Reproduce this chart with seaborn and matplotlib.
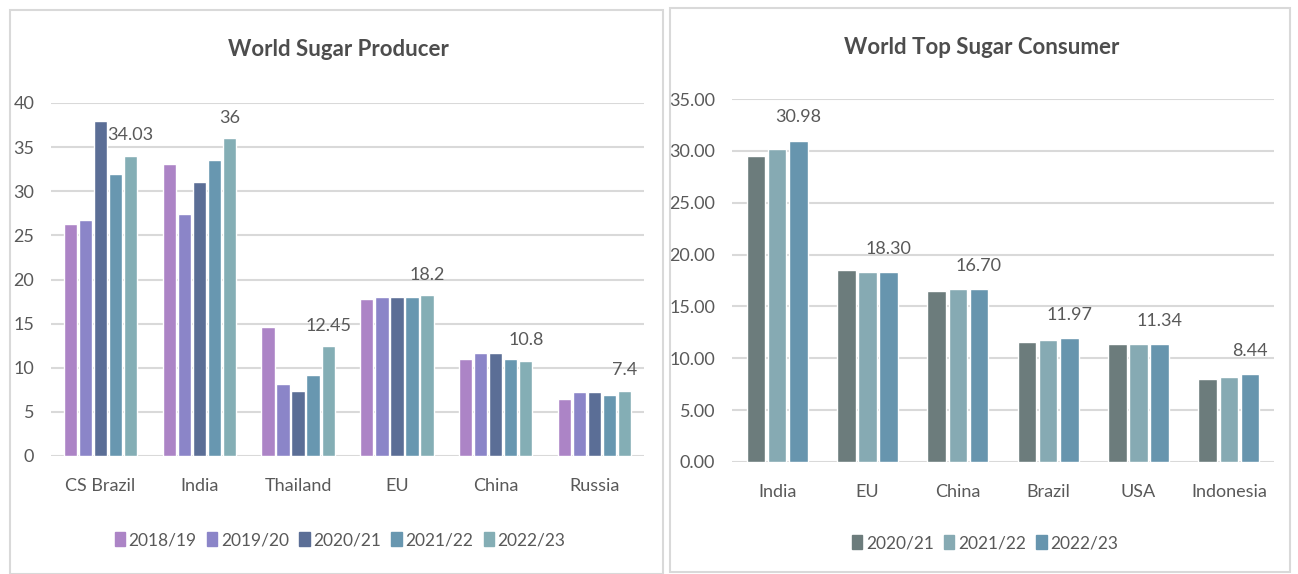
#recreate the sugar producer / consumer bar charts
import pandas as pd
import matplotlib.pyplot as plt
import matplotlib.patches as mpatches
import seaborn as sns

# data
prod_countries = ['CS Brazil', 'India', 'Thailand', 'EU', 'China', 'Russia']
prod_years = ['2018/19', '2019/20', '2020/21', '2021/22', '2022/23']
prod_2018 = [26.3, 33.1, 14.6, 17.8, 11.0, 6.5]
prod_2019 = [26.7, 27.4, 8.2, 18.0, 11.7, 7.2]
prod_2020 = [38.0, 31.0, 7.4, 18.0, 11.7, 7.2]
prod_2021 = [31.9, 33.5, 9.2, 18.0, 11.0, 6.9]
prod_2022 = [34.03, 36.0, 12.45, 18.2, 10.8, 7.4]
prod_colors = ['#AC84C6', '#8B85C8', '#5B6E96', '#6897B0', '#84AEB5']

cons_countries = ['India', 'EU', 'China', 'Brazil', 'USA', 'Indonesia']
cons_years = ['2020/21', '2021/22', '2022/23']
cons_2020 = [29.5, 18.5, 16.5, 11.6, 11.34, 8.0]
cons_2021 = [30.2, 18.3, 16.7, 11.8, 11.34, 8.2]
cons_2022 = [30.98, 18.30, 16.70, 11.97, 11.34, 8.44]
cons_colors = ['#6C7C7C', '#86AAB3', '#6795AE']

prod_df = pd.DataFrame({'country': prod_countries * 5,
                        'year': [y for y in prod_years for _ in prod_countries],
                        'value': prod_2018 + prod_2019 + prod_2020 + prod_2021 + prod_2022})
cons_df = pd.DataFrame({'country': cons_countries * 3,
                        'year': [y for y in cons_years for _ in cons_countries],
                        'value': cons_2020 + cons_2021 + cons_2022})

sns.set_style('white')
plt.rcParams['font.family'] = ['Lato', 'DejaVu Sans']
txt = '#595959'
grid = '#D9D9D9'

fig = plt.figure(figsize=(12.98, 5.74), dpi=100)
W, H = 1298, 574

# panel borders
fig.patches.append(mpatches.Rectangle((10 / W, 0), 653 / W, 1 - 10 / H, transform=fig.transFigure,
                                      fill=False, edgecolor=grid, linewidth=1.5))
fig.patches.append(mpatches.Rectangle((670 / W, 2 / H), 620 / W, 1 - 10 / H, transform=fig.transFigure,
                                      fill=False, edgecolor=grid, linewidth=1.5))

ax1 = fig.add_axes([51 / W, 1 - 456 / H, 593 / W, 353 / H])
ax2 = fig.add_axes([732 / W, 1 - 462 / H, 542 / W, 363 / H])


def style(ax, ymax, step, fmt):
    ax.set_ylim(0, ymax)
    ax.set_xlim(-0.5, 5.5)
    ax.set_yticks([i * step for i in range(int(ymax / step) + 1)])
    ax.set_yticklabels([fmt.format(i * step) for i in range(int(ymax / step) + 1)])
    ax.yaxis.grid(True, color=grid, linewidth=1.5)
    ax.set_axisbelow(True)
    for s in ax.spines.values():
        s.set_visible(False)
    ax.set_xlabel('')
    ax.set_ylabel('')
    ax.tick_params(axis='both', length=0, labelsize=13, labelcolor=txt)
    ax.tick_params(axis='x', pad=16)


sns.barplot(data=prod_df, x='country', y='value', hue='year', palette=prod_colors,
            width=0.76, gap=0.12, saturation=1, legend=False, ax=ax1)
style(ax1, 40, 5, '{:g}')
ax1.tick_params(axis='y', pad=12)
ax1.bar_label(ax1.containers[-1], labels=['{:g}'.format(v) for v in prod_2022],
              padding=9, fontsize=13, color=txt)

sns.barplot(data=cons_df, x='country', y='value', hue='year', palette=cons_colors,
            width=0.70, gap=0.12, saturation=1, legend=False, ax=ax2)
style(ax2, 35, 5, '{:.2f}')
ax2.tick_params(axis='y', pad=12)
ax2.bar_label(ax2.containers[-1], labels=['{:.2f}'.format(v) for v in cons_2022],
              padding=11, fontsize=13, color=txt)

fig.text(338 / W, 1 - 50 / H, 'World Sugar Producer', ha='center', va='center',
         fontsize=16, fontweight='bold', color='#4d4d4d')
fig.text(982 / W, 1 - 48 / H, 'World Top Sugar Consumer', ha='center', va='center',
         fontsize=16, fontweight='bold', color='#4d4d4d')

h1 = [mpatches.Patch(color=c, label=y) for c, y in zip(prod_colors, prod_years)]
fig.legend(handles=h1, loc='center', bbox_to_anchor=(340 / W, 1 - 540 / H), ncol=5,
           frameon=False, fontsize=12.5, labelcolor=txt, handlelength=0.6, handleheight=0.9,
           handletextpad=0.2, columnspacing=0.6)
h2 = [mpatches.Patch(color=c, label=y) for c, y in zip(cons_colors, cons_years)]
fig.legend(handles=h2, loc='center', bbox_to_anchor=(985 / W, 1 - 543 / H), ncol=3,
           frameon=False, fontsize=12.5, labelcolor=txt, handlelength=0.6, handleheight=0.9,
           handletextpad=0.2, columnspacing=0.6)

fig.savefig('out.png', dpi=100)
